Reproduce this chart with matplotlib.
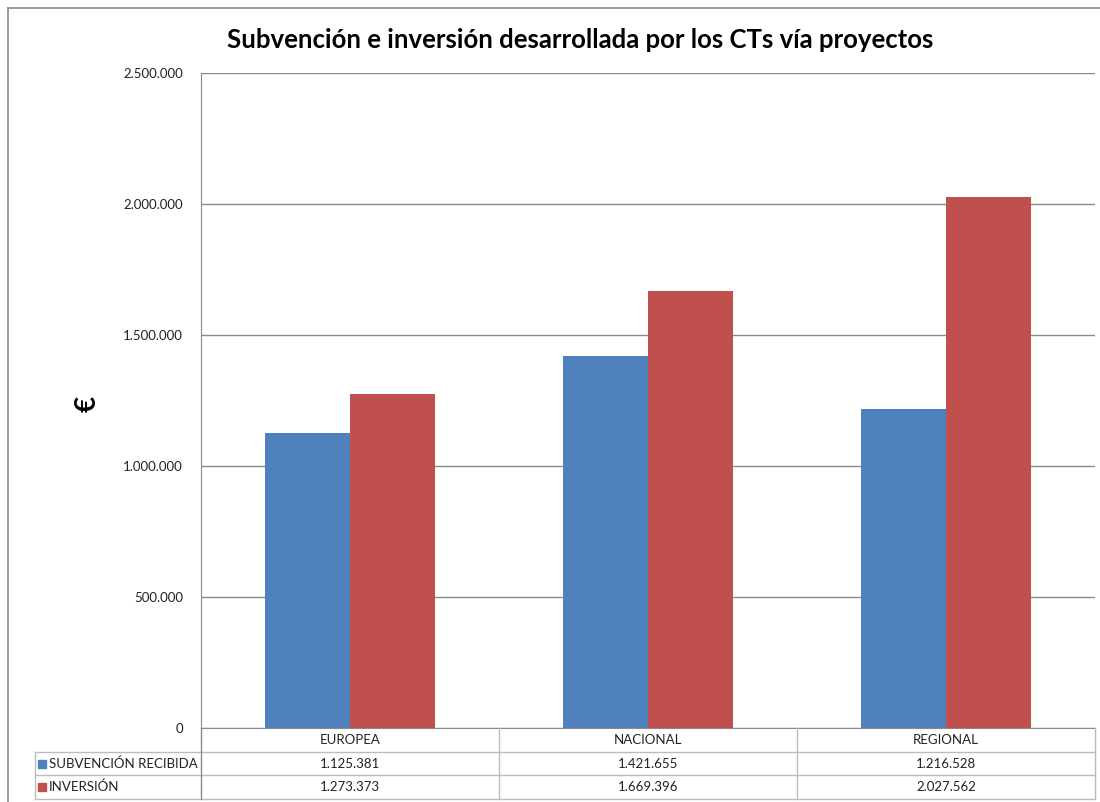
import matplotlib.pyplot as plt
import matplotlib.transforms as mtransforms
from matplotlib.lines import Line2D
from matplotlib.patches import Rectangle
from matplotlib.ticker import FuncFormatter, MultipleLocator

plt.rcParams['font.family'] = ['Lato', 'DejaVu Sans']

# data
categories = ['EUROPEA', 'NACIONAL', 'REGIONAL']
series_names = ['SUBVENCIÓN RECIBIDA', 'INVERSIÓN']
subvencion = [1125381, 1421655, 1216528]
inversion = [1273373, 1669396, 2027562]
series_values = [subvencion, inversion]
series_colors = ['#4F81BD', '#C0504D']

W, H = 1100, 802
fig = plt.figure(figsize=(W / 100, H / 100), dpi=100)

def fy(py):
    return 1 - py / H

# plot area in pixels
ax_l, ax_r, ax_t, ax_b = 201, 1095, 73, 728
ax = fig.add_axes([ax_l / W, fy(ax_b), (ax_r - ax_l) / W, (ax_b - ax_t) / H])

bar_w = 0.285
for i, (vals, col) in enumerate(zip(series_values, series_colors)):
    xs = [k + (i - 0.5) * bar_w for k in range(len(categories))]
    ax.bar(xs, vals, width=bar_w, color=col, zorder=3)

ax.set_xlim(-0.5, len(categories) - 0.5)
ax.set_ylim(0, 2500000)
ax.yaxis.set_major_locator(MultipleLocator(500000))
ax.yaxis.set_major_formatter(FuncFormatter(lambda v, p: f"{int(v):,}".replace(",", ".")))
ax.grid(axis='y', color='#8a8a8a', linewidth=1, zorder=0)
ax.set_xticks([])
for s in ['top', 'right']:
    ax.spines[s].set_visible(False)
ax.spines['left'].set_color('#8a8a8a')
ax.spines['bottom'].set_color('#8a8a8a')
ax.tick_params(axis='y', length=0, labelsize=9.5, pad=13, colors='#222222')

fig.text(88 / W, fy(404), '€', rotation=90, ha='center', va='center',
         fontsize=20, fontweight='bold')

fig.text(580 / W, fy(40), 'Subvención e inversión desarrollada por los CTs vía proyectos',
         ha='center', va='center', fontsize=18.5, fontweight='bold')

# data table under the plot
tr = mtransforms.blended_transform_factory(ax.transData, fig.transFigure)
tf = fig.transFigure
grid_c = '#bcbcbc'
rows_y = [728, 752, 775, 799]
tab_left = 35
for py in rows_y[1:]:
    fig.add_artist(Line2D([tab_left / W, ax_r / W], [fy(py), fy(py)], color=grid_c, lw=1, transform=tf))
fig.add_artist(Line2D([tab_left / W, tab_left / W], [fy(752), fy(799)], color=grid_c, lw=1, transform=tf))
fig.add_artist(Line2D([ax_l / W, ax_l / W], [fy(728), fy(799)], color='#8a8a8a', lw=1, transform=tf))
for xb in [0.5, 1.5, 2.5]:
    fig.add_artist(Line2D([xb, xb], [fy(728), fy(799)], color=grid_c, lw=1, transform=tr))

for k, cat in enumerate(categories):
    fig.text(k, fy(740), cat, transform=tr, ha='center', va='center', fontsize=9.5, color='#222222')
    for j, vals in enumerate(series_values):
        yc = (rows_y[j + 1] + rows_y[j + 2]) / 2
        fig.text(k, fy(yc), f"{vals[k]:,}".replace(",", "."), transform=tr,
                 ha='center', va='center', fontsize=9.5, color='#222222')

for j, (name, col) in enumerate(zip(series_names, series_colors)):
    yc = (rows_y[j + 1] + rows_y[j + 2]) / 2
    fig.add_artist(Rectangle((38 / W, fy(yc + 4)), 8 / W, 8 / H, color=col, transform=tf))
    fig.text(49 / W, fy(yc), name, ha='left', va='center', fontsize=9.5, color='#222222')

# chart area border
fig.add_artist(Line2D([8 / W, 8 / W], [fy(8), 0], color='#8c8c8c', lw=1.2, transform=tf))
fig.add_artist(Line2D([8 / W, 1], [fy(8), fy(8)], color='#8c8c8c', lw=1.2, transform=tf))

fig.savefig('out.png', dpi=100)
